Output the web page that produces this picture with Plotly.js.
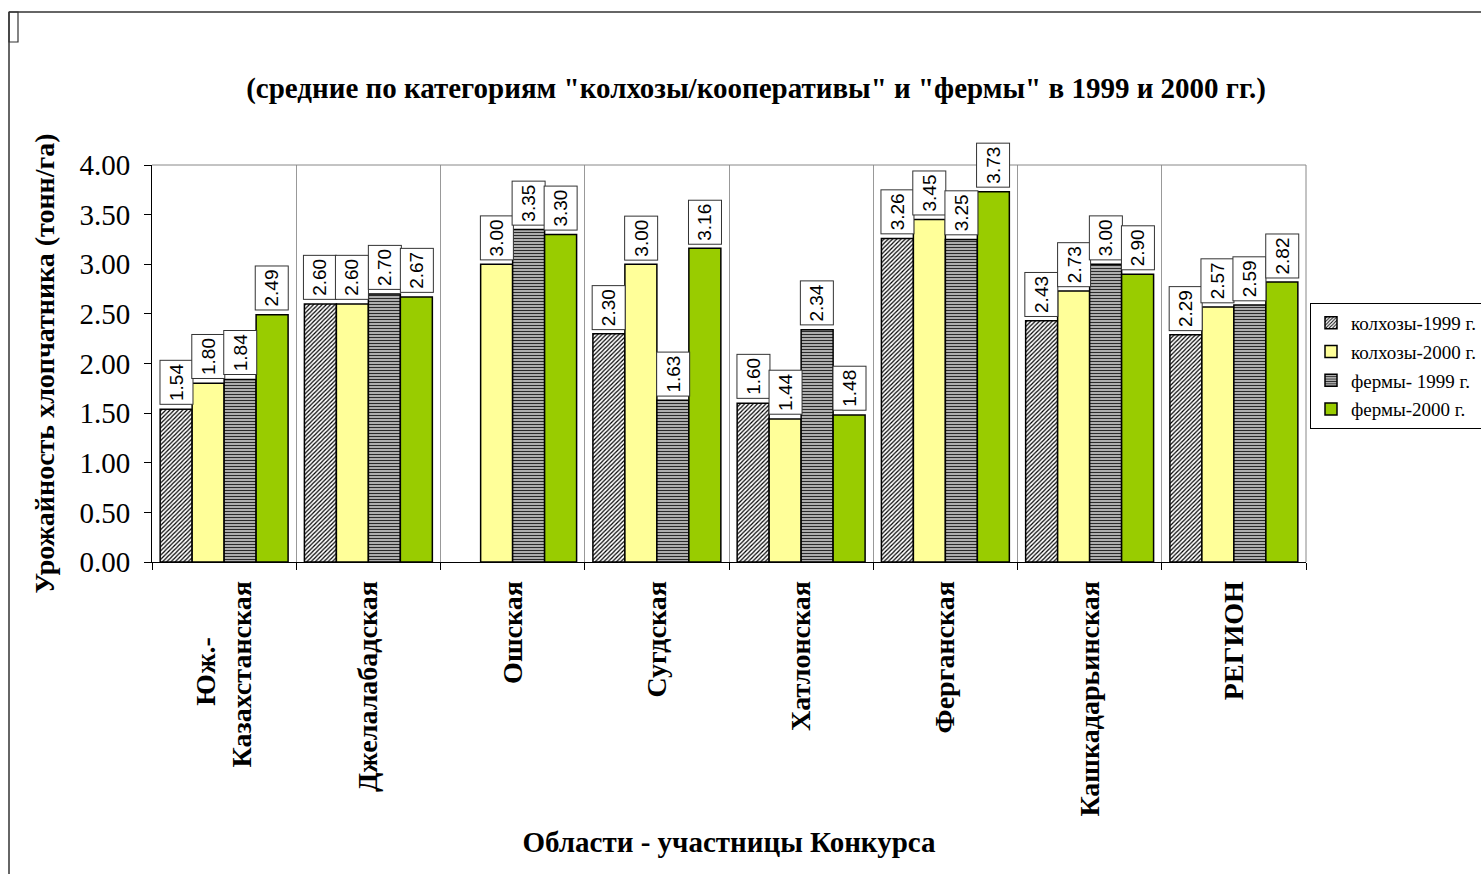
<!DOCTYPE html>
<html>
<head>
<meta charset="utf-8">
<script src="https://cdn.plot.ly/plotly-3.0.1.min.js"></script>
<style>html,body{margin:0;padding:0;background:#fff;}#chart{width:1481px;height:874px;}</style>
</head>
<body>
<div id="chart"></div>
<script>
var categories = ["Юж.-<br>Казахстанская", "Джелалабадская", "Ошская", "Сугдская", "Хатлонская", "Ферганская", "Кашкадарьинская", "РЕГИОН"];
var seriesNames = ["колхозы-1999 г.", "колхозы-2000 г.", "фермы- 1999 г.", "фермы-2000 г."];
var kolkhozy1999 = [1.54, 2.60, null, 2.30, 1.60, 3.26, 2.43, 2.29];
var kolkhozy2000 = [1.80, 2.60, 3.00, 3.00, 1.44, 3.45, 2.73, 2.57];
var fermy1999 = [1.84, 2.70, 3.35, 1.63, 2.34, 3.25, 3.00, 2.59];
var fermy2000 = [2.49, 2.67, 3.30, 3.16, 1.48, 3.73, 2.90, 2.82];
var yTickValues = [0, 0.5, 1, 1.5, 2, 2.5, 3, 3.5, 4];

var SERIF = "Liberation Serif, Times New Roman, serif";
var SANS = "Liberation Sans, Arial, sans-serif";

var W = 1481, H = 874;
var mL = 152, mR = 175, mT = 165, mB = 312;
var plotW = W - mL - mR, plotH = H - mT - mB;
function px(xp){ return (xp - mL) / plotW; }
function py(yp){ return (H - mB - yp) / plotH; }

// tick text: centre the short first line of the two-line label (end-anchored when rotated)
var NB = "\u00a0";
var tickText = categories.map(function(c){
  var parts = c.split("<br>");
  if (parts.length === 2) {
    return parts[0] + new Array(9).join(NB) + "<br>" + parts[1];
  }
  return c;
}).map(function(t){ return "<b>" + t + "</b>"; });

var allSeries = [kolkhozy1999, kolkhozy2000, fermy1999, fermy2000];
var styles = [
  {color: "#ffffff", pattern: {shape: "/", fgcolor: "#000000", bgcolor: "#ffffff", size: 3, solidity: 0.4}},
  {color: "#ffff99"},
  {color: "#c0c0c0", pattern: {shape: "-", fgcolor: "#2a2a2a", bgcolor: "#d8d8d8", size: 3, solidity: 0.5}},
  {color: "#99cc00"}
];

var traces = allSeries.map(function(vals, i){
  var m = {color: styles[i].color, line: {color: "#000000", width: 1.5}};
  if (styles[i].pattern) m.pattern = styles[i].pattern;
  return {
    type: "bar",
    name: seriesNames[i],
    legendgroup: "g" + i,
    x: categories,
    y: vals,
    marker: m,
    hoverinfo: "skip"
  };
});

var barPx = plotW / categories.length * (1 - 0.113) / 4;
var annotations = [];
allSeries.forEach(function(vals, i){
  vals.forEach(function(v, j){
    if (v === null) return;
    annotations.push({
      x: categories[j], y: v, xref: "x", yref: "y",
      xshift: (i - 1.5) * barPx, yshift: 4,
      xanchor: "center", yanchor: "bottom",
      text: v.toFixed(2), textangle: -90, showarrow: false,
      width: 43, height: 32, align: "center", valign: "middle",
      font: {family: SANS, size: 19, color: "#000"},
      bgcolor: "#ffffff", bordercolor: "#333333", borderwidth: 1, borderpad: 0
    });
  });
});

var shapes = [
  {type: "line", xref: "paper", yref: "paper", x0: 0, x1: 1, y0: 1, y1: 1, line: {color: "#888888", width: 1}},
  {type: "line", xref: "paper", yref: "paper", x0: 1, x1: 1, y0: 0, y1: 1, line: {color: "#888888", width: 1}},
  {type: "line", xref: "paper", yref: "paper", x0: px(9), x1: px(9), y0: py(12), y1: py(874), line: {color: "#333333", width: 1.5}},
  {type: "line", xref: "paper", yref: "paper", x0: px(9), x1: px(1481), y0: py(12), y1: py(12), line: {color: "#333333", width: 1.5}},
  {type: "rect", xref: "paper", yref: "paper", x0: px(9), x1: px(18), y0: py(12), y1: py(42), line: {color: "#333333", width: 1.2}}
];

var layout = {
  width: W, height: H,
  margin: {l: mL, r: mR, t: mT, b: mB, pad: 0, autoexpand: false},
  paper_bgcolor: "#ffffff", plot_bgcolor: "#ffffff",
  title: {
    text: "<b>(средние по категориям \"колхозы/кооперативы\" и \"фермы\" в 1999 и 2000 гг.)</b>",
    font: {family: SERIF, size: 29, color: "#000"},
    x: 756 / W, xref: "container", xanchor: "center",
    y: 1 - 88 / H, yref: "container", yanchor: "middle"
  },
  barmode: "group", bargap: 0.113, bargroupgap: 0,
  showlegend: true,
  legend: {
    x: px(1310), y: py(303), xanchor: "left", yanchor: "top",
    bgcolor: "#ffffff", bordercolor: "#000000", borderwidth: 1,
    font: {family: SERIF, size: 19, color: "#000"},
    traceorder: "grouped", tracegroupgap: 1,
    itemwidth: 30
  },
  xaxis: {
    type: "category",
    tickson: "boundaries",
    showgrid: true, gridcolor: "#999999", gridwidth: 1,
    showline: true, linecolor: "#000000", linewidth: 1,
    ticks: "outside", ticklen: 7, tickcolor: "#000000",
    tickangle: -90,
    ticklabelstandoff: 7,
    tickmode: "array", tickvals: categories, ticktext: tickText,
    tickfont: {family: SERIF, size: 28, color: "#000"},
    title: {text: "<b>Области - участницы Конкурса</b>", font: {family: SERIF, size: 29, color: "#000"}, standoff: 16},
    automargin: false,
    fixedrange: true
  },
  yaxis: {
    range: [0, 4],
    tickvals: yTickValues,
    tickformat: ".2f",
    showgrid: false, zeroline: false,
    showline: true, linecolor: "#000000", linewidth: 1,
    ticks: "outside", ticklen: 7, tickcolor: "#000000",
    ticklabelstandoff: 8,
    tickfont: {family: SERIF, size: 29, color: "#000"},
    title: {text: "<b>Урожайность хлопчатника (тонн/га)</b>", font: {family: SERIF, size: 28, color: "#000"}, standoff: 16},
    automargin: false,
    fixedrange: true
  },
  annotations: annotations,
  shapes: shapes
};

Plotly.newPlot("chart", traces, layout, {staticPlot: true, displayModeBar: false});
</script>
</body>
</html>
